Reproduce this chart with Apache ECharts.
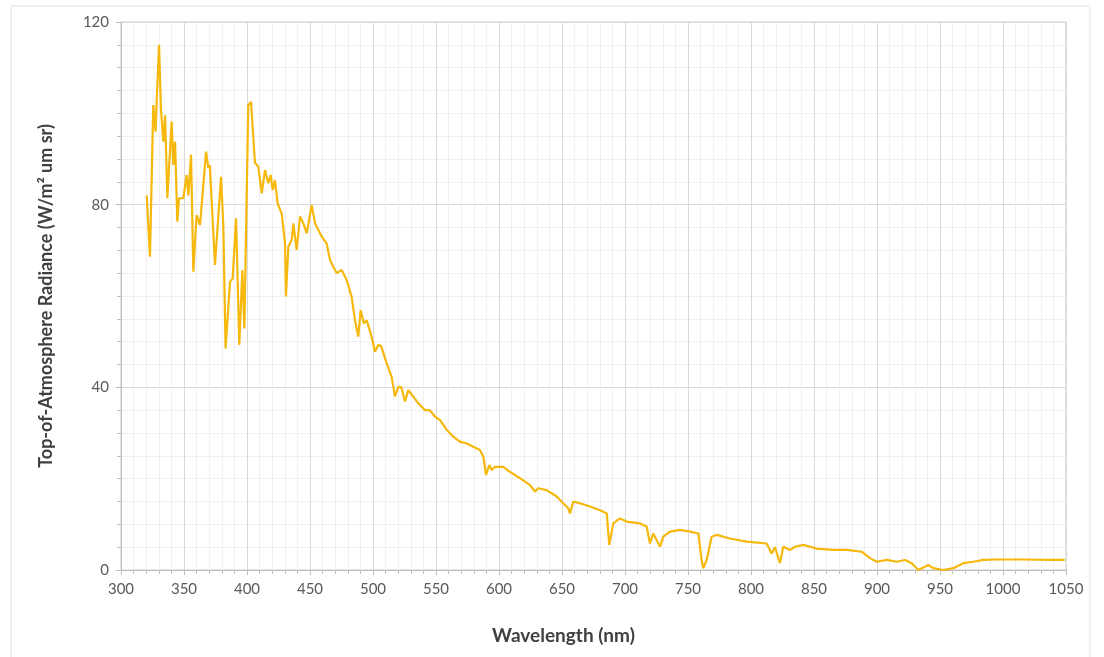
<!DOCTYPE html>
<html>
<head>
<meta charset="utf-8">
<title>Top-of-Atmosphere Radiance</title>
<script src="https://cdn.jsdelivr.net/npm/echarts@6/dist/echarts.min.js"></script>
<style>
  html, body { margin: 0; padding: 0; background: #fff; }
  #chart { width: 1104px; height: 657px; }
</style>
</head>
<body>
<div id="chart"></div>
<script>
// wavelength (nm)
var wavelength = [
  320.4, 323, 325.6, 327.5, 328.3, 330.2, 331.7, 333.6, 335, 336.8,
  340.2, 341.5, 342.9, 344.7, 346, 349.5, 352.1, 353.5, 355.6, 357.4,
  360, 362.7, 367.5, 369.3, 370.5, 374.6, 379.4, 381.2, 383, 386.5,
  388.6, 391.3, 393.9, 396.3, 397.9, 401, 403.2, 406.3, 409, 411.7,
  414.3, 416.9, 418.8, 420.4, 422.2, 424.3, 427.5, 430.2, 430.9, 432.8,
  435.5, 436.8, 439.4, 442.1, 444.7, 447.4, 451.3, 454, 456.6, 459.3,
  463.2, 465.9, 468.5, 471.2, 475.1, 479.1, 483, 485.7, 488.3, 490.2,
  492.8, 495, 498.9, 501.6, 504.2, 506.5, 510.8, 514.8, 517.4, 520.1,
  522.5, 525.4, 528, 531.9, 536, 541.3, 545, 549.2, 553.2, 558.5,
  563.7, 569, 574.4, 579.6, 584.9, 587.6, 589.7, 592.3, 594.2, 596.8,
  603.4, 608.7, 616.7, 624.6, 628.6, 631.2, 637.8, 645.8, 651, 655,
  656.3, 659, 664.3, 672.2, 680.2, 685.5, 687.5, 690.7, 696, 701.3,
  711.9, 717.2, 719.8, 722.4, 727.8, 730.4, 735.7, 743.7, 751.6, 758.2,
  760.8, 762.2, 764.8, 768.8, 772.8, 783.3, 796.6, 812.4, 816.4, 819,
  823, 825.6, 831, 835, 841.5, 852, 865.3, 876, 887.8, 894.4,
  899.8, 907.7, 915.6, 922.2, 927.5, 932.8, 940.7, 944.7, 952.6, 960.6,
  968.5, 976.5, 984.4, 995, 1016, 1037.3, 1049
];
// radiance (W/m² um sr)
var radiance = [
  82, 68.6, 101.8, 96, 102.5, 115, 101, 93.8, 99.6, 81.4,
  98.2, 88.7, 93.8, 76.3, 81.4, 81.4, 86.5, 82, 90.9, 65.3,
  77.7, 75.5, 91.6, 88, 88.7, 66.8, 86.1, 75.5, 48.5, 63.1,
  63.8, 77, 49.3, 65.7, 52.9, 101.8, 102.5, 89.2, 88.3, 82.5,
  87.6, 84.7, 86.5, 83.2, 85.4, 80.3, 78.1, 71.5, 59.9, 70.8,
  72.3, 75.9, 70.1, 77.4, 75.9, 73.7, 79.9, 75.9, 74.5, 73,
  71.5, 67.9, 66.4, 65, 65.7, 63.5, 59.9, 54.7, 51.1, 56.9,
  54, 54.7, 51.1, 47.8, 49.3, 49, 45.3, 42.3, 38, 40.1,
  40, 36.9, 39.4, 38, 36.5, 35, 35, 33.6, 32.8, 30.7,
  29.2, 28.1, 27.7, 27, 26.3, 24.8, 20.8, 23, 21.9, 22.6,
  22.6, 21.5, 20.1, 18.6, 17.2, 17.9, 17.5, 16.1, 14.6, 13.5,
  12.4, 15, 14.6, 13.9, 13.1, 12.4, 5.5, 10.2, 11.3, 10.6,
  10.2, 9.5, 5.8, 8, 5.1, 7.3, 8.4, 8.8, 8.4, 8,
  2.2, 0.4, 2.2, 7.3, 7.7, 6.9, 6.2, 5.8, 3.6, 5,
  1.5, 5.1, 4.4, 5.1, 5.5, 4.7, 4.4, 4.4, 4.0, 2.6,
  1.8, 2.2, 1.8, 2.2, 1.5, 0, 1.1, 0.4, 0, 0.4,
  1.5, 1.8, 2.2, 2.3, 2.3, 2.2, 2.2
];
var xTicks = [300, 1050, 50];
var yTicks = [0, 120, 40];

var lineData = wavelength.map(function (w, i) {
  return [w, radiance[i]];
});

var labelFont = 'Lato, "Open Sans", sans-serif';
var myChart = echarts.init(document.getElementById('chart'));
var option = {
  backgroundColor: '#fff',
  animation: false,
  graphic: [{
    type: 'rect',
    shape: {x: 11, y: 6, width: 1079, height: 700},
    style: {fill: 'none', stroke: '#e2e2e2', lineWidth: 1},
    silent: true
  }],
  grid: {
    left: 121,
    right: 38,
    top: 22,
    bottom: 87,
    show: true,
    borderColor: '#c9c9c9',
    borderWidth: 1
  },
  xAxis: {
    type: 'value',
    min: xTicks[0],
    max: xTicks[1],
    interval: xTicks[2],
    name: 'Wavelength (nm)',
    nameLocation: 'middle',
    nameGap: 56,
    nameTextStyle: {
      color: '#404040',
      fontSize: 19,
      fontWeight: 'bold',
      fontFamily: labelFont,
      padding: [0, 60, 0, 0]
    },
    axisLine: {show: true, lineStyle: {color: '#bfbfbf', width: 1}},
    axisTick: {show: true, length: 5, lineStyle: {color: '#bfbfbf'}},
    minorTick: {show: true, splitNumber: 5, length: 4, lineStyle: {color: '#bfbfbf'}},
    axisLabel: {
      color: '#595959', fontSize: 15, fontFamily: labelFont, margin: 12,
      formatter: function (v) { return String(v); }
    },
    splitLine: {show: true, lineStyle: {color: '#d9d9d9', width: 1}},
    minorSplitLine: {show: true, lineStyle: {color: '#f0f0f0', width: 1}}
  },
  yAxis: {
    type: 'value',
    min: yTicks[0],
    max: yTicks[1],
    interval: yTicks[2],
    name: 'Top-of-Atmosphere Radiance (W/m² um sr)',
    nameLocation: 'middle',
    nameGap: 66,
    nameTextStyle: {
      color: '#404040',
      fontSize: 18,
      fontWeight: 'bold',
      fontFamily: labelFont
    },
    axisLine: {show: true, lineStyle: {color: '#bfbfbf', width: 1}},
    axisTick: {show: true, length: 5, lineStyle: {color: '#bfbfbf'}},
    minorTick: {show: true, splitNumber: 8, length: 4, lineStyle: {color: '#bfbfbf'}},
    axisLabel: {color: '#595959', fontSize: 15, fontFamily: labelFont, margin: 12},
    splitLine: {show: true, lineStyle: {color: '#d9d9d9', width: 1}},
    minorSplitLine: {show: true, lineStyle: {color: '#f0f0f0', width: 1}}
  },
  series: [{
    type: 'line',
    data: lineData,
    showSymbol: false,
    smooth: false,
    lineStyle: {color: '#f6b80c', width: 2.2},
    itemStyle: {color: '#f6b80c'}
  }]
};
myChart.setOption(option);
</script>
</body>
</html>
